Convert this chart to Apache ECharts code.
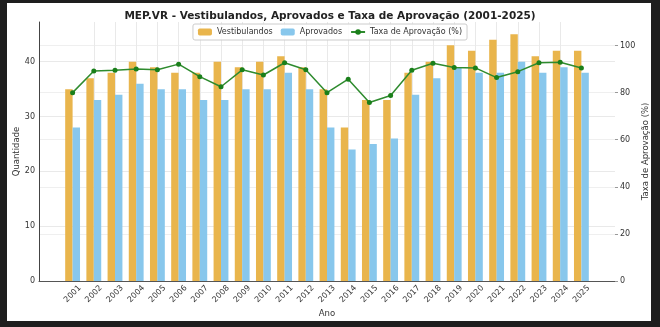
<!DOCTYPE html>
<html>
<head>
<meta charset="utf-8">
<script src="https://cdn.jsdelivr.net/npm/echarts@6/dist/echarts.min.js"></script>
<style>
  html, body { margin: 0; padding: 0; background: #1e1e1e; }
  #frame { position: absolute; left: 7px; top: 3px; width: 644px; height: 318px; background: #ffffff; }
  #chart { position: absolute; left: 0; top: 0; width: 660px; height: 327px; }
</style>
</head>
<body>
<div id="frame"></div>
<div id="chart"></div>
<script>
const years = ['2001','2002','2003','2004','2005','2006','2007','2008','2009','2010','2011','2012','2013','2014','2015','2016','2017','2018','2019','2020','2021','2022','2023','2024','2025'];
const vestibulandos = [35, 37, 38, 40, 39, 38, 38, 40, 39, 40, 41, 39, 35, 28, 33, 33, 38, 40, 43, 42, 44, 45, 41, 42, 42];
const aprovados = [28, 33, 34, 36, 35, 35, 33, 33, 35, 35, 38, 35, 28, 24, 25, 26, 34, 37, 39, 38, 38, 40, 38, 39, 38];
const taxaAprovacao = [80.0, 89.2, 89.5, 90.0, 89.7, 92.1, 86.8, 82.5, 89.7, 87.5, 92.7, 89.7, 80.0, 85.7, 75.8, 78.8, 89.5, 92.5, 90.7, 90.5, 86.4, 88.9, 92.7, 92.9, 90.5];
const leftTicks = [0, 10, 20, 30, 40];
const rightTicks = [0, 20, 40, 60, 80, 100];

const idx = years.map((_, i) => i);
const font = 'DejaVu Sans';

const chart = echarts.init(document.getElementById('chart'), null, { renderer: 'canvas' });
chart.setOption({
  backgroundColor: 'transparent',
  animation: false,
  textStyle: { fontFamily: font },
  title: {
    text: 'MEP.VR - Vestibulandos, Aprovados e Taxa de Aprovação (2001-2025)',
    left: 'center',
    top: 6,
    textStyle: { fontFamily: font, fontSize: 10.5, fontWeight: 'bold', color: '#222' }
  },
  legend: {
    data: ['Vestibulandos', 'Aprovados', 'Taxa de Aprovação (%)'],
    top: 24,
    left: 'center',
    itemWidth: 14,
    itemHeight: 7,
    itemGap: 8,
    padding: [4, 5],
    borderColor: '#cccccc',
    borderWidth: 1,
    borderRadius: 2,
    backgroundColor: 'rgba(255,255,255,0.85)',
    textStyle: { fontFamily: font, fontSize: 8, color: '#333' }
  },
  grid: { left: 39, right: 45, top: 22, bottom: 46, containLabel: false, outerBoundsMode: 'none' },
  xAxis: {
    type: 'value',
    min: -1.585,
    max: 25.585,
    name: 'Ano',
    nameLocation: 'middle',
    nameGap: 28,
    nameMoveOverlap: false,
    nameTextStyle: { fontFamily: font, fontSize: 8.5, color: '#333' },
    axisLine: { show: true, onZero: false, lineStyle: { color: '#555', width: 1 } },
    axisTick: { show: false, customValues: idx },
    axisLabel: {
      customValues: idx,
      rotate: 45,
      align: 'center',
      verticalAlign: 'middle',
      fontSize: 8,
      color: '#333',
      margin: 13,
      formatter: v => years[Math.round(v)]
    },
    splitLine: { show: true, showMinLine: false, showMaxLine: false, lineStyle: { color: '#e9e9e9', width: 1 } }
  },
  yAxis: [
    {
      type: 'value',
      min: 0,
      max: 47.25,
      interval: 10,
      name: 'Quantidade',
      nameLocation: 'middle',
      nameRotate: 90,
      nameGap: 18,
      nameMoveOverlap: false,
      nameTextStyle: { fontFamily: font, fontSize: 8.5, color: '#333' },
      axisLine: { show: true, onZero: false, lineStyle: { color: '#444', width: 1 } },
      axisTick: { show: false },
      axisLabel: { fontSize: 8, color: '#333', margin: 4, showMaxLabel: false,
        formatter: v => (leftTicks.includes(v) ? String(v) : '') },
      splitLine: { show: true, showMaxLine: false, lineStyle: { color: '#e9e9e9', width: 1 } }
    },
    {
      type: 'value',
      min: 0,
      max: 110,
      interval: 20,
      name: 'Taxa de Aprovação (%)',
      nameLocation: 'middle',
      nameRotate: 90,
      nameGap: 26,
      nameMoveOverlap: false,
      nameTextStyle: { fontFamily: font, fontSize: 8.5, color: '#333' },
      axisLine: { show: false, onZero: false },
      axisTick: { show: true, length: 3, lineStyle: { color: '#999' } },
      axisLabel: { fontSize: 8, color: '#333', margin: 5, showMaxLabel: false,
        formatter: v => (rightTicks.includes(v) ? String(v) : '') },
      splitLine: { show: true, showMaxLine: false, lineStyle: { color: '#efefef', width: 1 } }
    }
  ],
  series: [
    {
      name: 'Vestibulandos',
      type: 'bar',
      yAxisIndex: 0,
      barWidth: '35%',
      barGap: '0%',
      itemStyle: { color: '#E9B54C' },
      data: vestibulandos.map((v, i) => [i, v])
    },
    {
      name: 'Aprovados',
      type: 'bar',
      yAxisIndex: 0,
      barWidth: '35%',
      barGap: '0%',
      itemStyle: { color: '#88C7EC' },
      data: aprovados.map((v, i) => [i, v])
    },
    {
      name: 'Taxa de Aprovação (%)',
      type: 'line',
      yAxisIndex: 1,
      symbol: 'circle',
      symbolSize: 5,
      z: 5,
      lineStyle: { color: '#2e8b2e', width: 1.5 },
      itemStyle: { color: '#1a7f1a' },
      data: taxaAprovacao.map((v, i) => [i, v])
    }
  ]
});
</script>
</body>
</html>
